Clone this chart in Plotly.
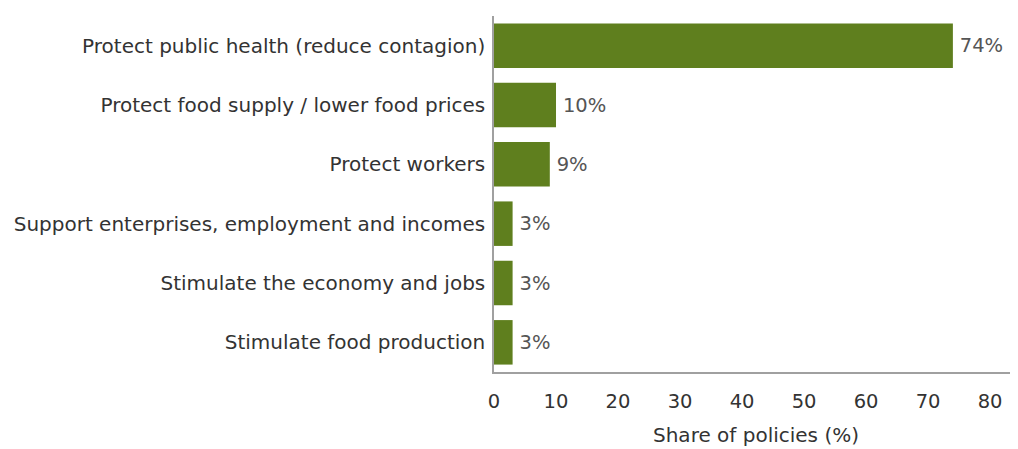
import plotly.graph_objects as go

categories = [
    "Protect public health (reduce contagion)",
    "Protect food supply / lower food prices",
    "Protect workers",
    "Support enterprises, employment and incomes",
    "Stimulate the economy and jobs",
    "Stimulate food production",
]
values = [74, 10, 9, 3, 3, 3]
labels = ["74%", "10%", "9%", "3%", "3%", "3%"]
x_ticks = [0, 10, 20, 30, 40, 50, 60, 70, 80]

FONT = "DejaVu Sans"
BAR = "#5f7f1e"

fig = go.Figure(go.Bar(
    y=categories, x=values, orientation="h",
    marker=dict(color=BAR, line=dict(width=0)),
    width=0.75,
    text=["\u2009" + t for t in labels], textposition="outside", cliponaxis=False,
    textfont=dict(family=FONT, size=19.5, color="#555555"),
))

# page body has an 8px default margin, so the figure is offset by 8px
fig.update_layout(
    width=1010, height=441,
    margin=dict(l=486, r=0, t=8, b=77, autoexpand=False),
    plot_bgcolor="white", paper_bgcolor="white",
    showlegend=False,
    font=dict(family=FONT, size=20, color="#333333"),
)
fig.update_yaxes(
    categoryorder="array", categoryarray=categories[::-1],
    showline=True, linecolor="#a0a0a0", linewidth=1.5,
    showgrid=False, ticks="", ticklabelstandoff=3, automargin=False,
    tickfont=dict(family=FONT, size=20, color="#333333"),
)
fig.update_xaxes(
    range=[0, 84.5], tickvals=x_ticks, ticktext=[str(v) for v in x_ticks],
    showline=True, linecolor="#a0a0a0", linewidth=1.5,
    showgrid=False, zeroline=False, ticks="", ticklabelstandoff=11,
    automargin=False,
    tickfont=dict(family=FONT, size=19.5, color="#333333"),
    title=dict(text="Share of policies (%)", standoff=16,
               font=dict(family=FONT, size=20, color="#333333")),
)

fig.write_html("out.html")
